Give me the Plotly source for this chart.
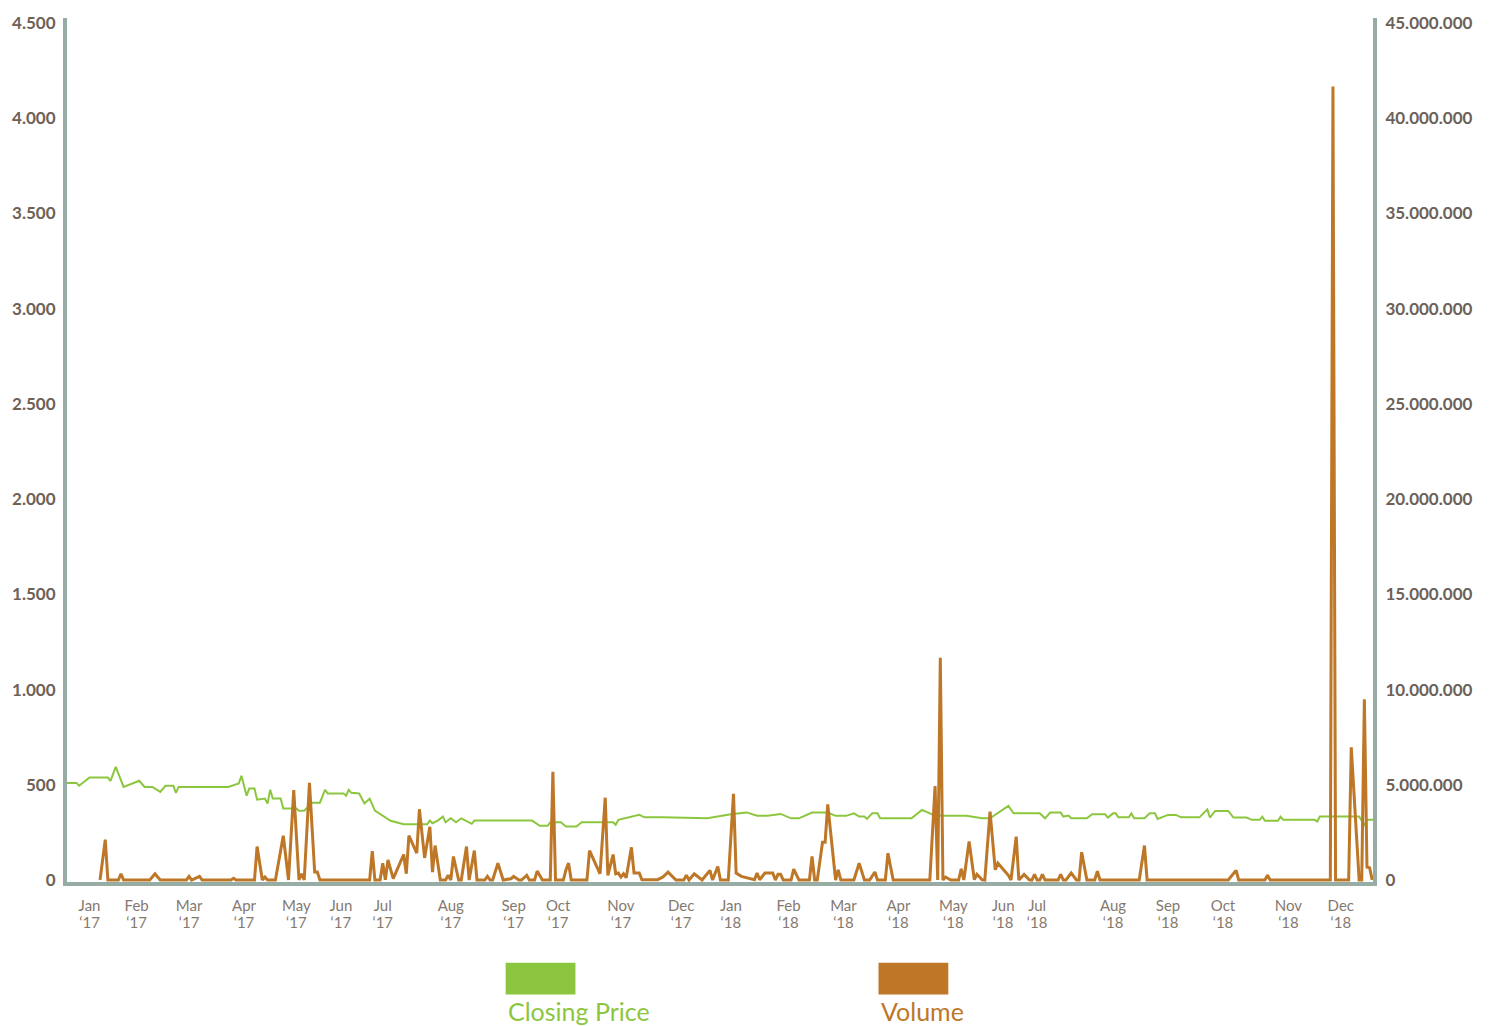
import plotly.graph_objects as go

# ---- data (trading-day index along a category-like axis) ----
price_day = [0, 4, 5, 9, 16, 17, 19, 22, 28, 30, 33, 36, 38, 41, 42, 43, 62, 66, 67, 69, 70, 72, 73,
             76, 77, 78, 79, 82, 83, 88, 89, 91, 94, 97, 99, 100, 106, 107, 108, 109, 112, 114, 116,
             118, 124, 129, 138, 139, 140, 142, 144, 145, 147, 149, 151, 155, 156, 178, 181, 184, 185,
             189, 191, 195, 197, 209, 210, 211, 219, 221, 228, 245, 254, 260, 264, 268, 273, 277, 280,
             285, 291, 294, 298, 301, 303, 305, 306, 308, 310, 311, 323, 327, 332, 344, 350, 353, 360,
             362, 372, 374, 376, 380, 381, 383, 384, 390, 392, 397, 398, 400, 401, 402, 406, 407, 408,
             412, 414, 416, 417, 421, 424, 426, 433, 436, 437, 439, 444, 446, 451, 453, 456, 457, 458,
             463, 464, 465, 477, 478, 479, 494, 496, 497, 500]
price_close = [510, 510, 495, 538, 538, 521, 594, 489, 521, 489, 489, 463, 495, 495, 458, 489, 489, 507,
               547, 443, 480, 480, 422, 428, 401, 474, 428, 428, 376, 376, 364, 364, 406, 406, 474, 454,
               454, 443, 474, 458, 454, 402, 427, 364, 311, 293, 293, 312, 298, 312, 333, 303, 324, 303,
               324, 295, 312, 312, 285, 285, 303, 303, 281, 281, 303, 303, 290, 316, 342, 329, 329, 324,
               345, 355, 338, 338, 347, 324, 324, 354, 354, 337, 337, 350, 333, 333, 321, 350, 350, 324,
               324, 368, 338, 338, 324, 324, 389, 350, 350, 324, 354, 354, 333, 338, 324, 324, 345, 345,
               328, 350, 350, 329, 329, 350, 324, 324, 350, 350, 321, 342, 342, 329, 329, 371, 328, 363,
               363, 328, 328, 316, 316, 333, 311, 311, 333, 316, 316, 307, 333, 333, 290, 316, 316]

volume_day = [13, 15, 16, 20, 21, 22, 32, 34, 36, 46, 47, 48, 51, 52, 63, 64, 65, 72, 73, 75, 76, 77, 80,
              83, 85, 87, 89, 90, 91, 93, 95, 96, 97, 116, 117, 118, 120, 121, 122, 123, 125, 129, 130,
              131, 134, 135, 137, 139, 140, 141, 143, 145, 146, 147, 148, 150, 151, 153, 154, 156, 157,
              160, 161, 162, 163, 165, 167, 170, 171, 173, 174, 176, 177, 179, 180, 182, 185, 186, 187,
              190, 191, 192, 193, 199, 200, 204, 206, 207, 209, 210, 211, 212, 213, 214, 216, 217, 219,
              220, 226, 228, 230, 233, 236, 237, 238, 240, 243, 246, 247, 249, 250, 253, 255, 256, 258,
              263, 264, 265, 267, 270, 271, 272, 273, 274, 277, 278, 280, 284, 285, 286, 287, 289, 290,
              291, 294, 295, 296, 301, 303, 305, 307, 309, 310, 313, 314, 316, 330, 332, 333, 334, 335,
              336, 338, 341, 342, 343, 345, 347, 348, 350, 351, 353, 355, 356, 360, 361, 363, 364, 366,
              368, 369, 370, 371, 372, 373, 374, 379, 380, 381, 382, 384, 386, 387, 388, 390, 393, 394,
              395, 410, 412, 413, 444, 447, 448, 458, 459, 460, 483, 484, 485, 490, 491, 494, 495, 496,
              497, 498, 499]
volume = [0, 2120000, 0, 0, 328000, 0, 0, 328000, 0, 0, 193000, 0, 193000, 0, 0, 89000, 0, 0, 1755000,
          0, 156000, 0, 0, 2328000, 0, 4724000, 0, 328000, 0, 5104000, 417000, 417000, 0, 0, 1510000, 0,
          0, 885000, 16000, 1057000, 68000, 1339000, 328000, 2328000, 1406000, 3714000, 1161000,
          2797000, 417000, 1807000, 0, 0, 245000, 0, 1234000, 0, 0, 1755000, 0, 1547000, 0, 0, 193000,
          0, 0, 885000, 0, 68000, 193000, 0, 0, 245000, 0, 0, 469000, 0, 0, 5677000, 0, 0, 536000,
          885000, 0, 0, 1547000, 328000, 4323000, 245000, 1339000, 328000, 365000, 156000, 328000,
          120000, 1718000, 365000, 365000, 16000, 16000, 156000, 417000, 0, 0, 245000, 0, 328000, 0,
          505000, 0, 714000, 0, 0, 4531000, 365000, 193000, 16000, 365000, 16000, 365000, 365000, 0,
          297000, 297000, 0, 0, 573000, 0, 0, 1234000, 0, 0, 1979000, 1979000, 3974000, 0, 536000, 0,
          0, 885000, 0, 0, 417000, 0, 0, 1406000, 0, 0, 4932000, 0, 11667000, 0, 156000, 0, 0, 589000,
          0, 2031000, 16000, 297000, 16000, 0, 3594000, 536000, 885000, 245000, 0, 2276000, 0, 297000,
          16000, 0, 297000, 0, 0, 297000, 0, 0, 297000, 0, 0, 365000, 0, 0, 1458000, 0, 0, 469000, 0,
          0, 1807000, 0, 0, 505000, 0, 0, 245000, 0, 0, 41667000, 0, 0, 6964000, 0, 0, 9495000, 677000,
          641000, 0]

month_tick_day = [9, 27, 47, 68, 88, 105, 121, 147, 171, 188, 212, 235,
                  254, 276, 297, 318, 339, 358, 371, 400, 421, 442, 467, 487]
month_names = ["Jan", "Feb", "Mar", "Apr", "May", "Jun", "Jul", "Aug", "Sep", "Oct", "Nov", "Dec"] * 2
month_years = ["\u201817"] * 12 + ["\u201818"] * 12

price_ticks = [0, 500, 1000, 1500, 2000, 2500, 3000, 3500, 4000, 4500]
volume_ticks = [0, 5000000, 10000000, 15000000, 20000000, 25000000, 30000000, 35000000, 40000000, 45000000]

GREEN = "#8cc63f"
BROWN = "#bd7727"
AXIS = "#97aca5"
LABEL = "#6d6158"
XLABEL = "#85796f"
FONT = "Source Sans Pro, Lato, sans-serif"

X_RANGE = [0.38, 499.3]

fig = go.Figure()
fig.add_trace(go.Scatter(x=price_day, y=price_close, mode="lines", name="Closing Price",
                         line=dict(color=GREEN, width=2), xaxis="x", yaxis="y", hoverinfo="skip"))
fig.add_trace(go.Scatter(x=volume_day, y=volume, mode="lines", name="Volume",
                         line=dict(color=BROWN, width=3), xaxis="x2", yaxis="y2", hoverinfo="skip"))

L, R, T, B = 63, 1373, 14, 882          # plot area in window pixels
W, H = 1490, 1026
pw, ph = R - L, B - T

def px(x):
    return (x - L) / pw

def py(y):
    return (B - y) / ph

tickfont_y = dict(family=FONT, size=17, color=LABEL, weight="bold")
tickfont_x = dict(family=FONT, size=15, color=XLABEL)

fig.update_layout(
    width=W, height=H,
    margin=dict(l=L, r=W - R, t=T, b=H - B),
    paper_bgcolor="white", plot_bgcolor="white",
    separators=",.",
    showlegend=False,
    hovermode=False,
    font=dict(family=FONT, color=LABEL),
    xaxis=dict(range=X_RANGE, showgrid=False, zeroline=False,
               showline=True, linecolor=AXIS, linewidth=4,
               tickmode="array", tickvals=month_tick_day, ticktext=month_names,
               ticks="", tickfont=tickfont_x, ticklabelstandoff=7),
    xaxis2=dict(range=X_RANGE, overlaying="x", side="bottom", anchor="y2",
                showgrid=False, zeroline=False, showline=False,
                tickmode="array", tickvals=month_tick_day, ticktext=month_years,
                ticks="", tickfont=tickfont_x, ticklabelstandoff=30),
    yaxis=dict(range=[-10.4, 4526], showgrid=False, zeroline=False,
               showline=True, linecolor=AXIS, linewidth=4,
               tickmode="array", tickvals=price_ticks, tickformat=",d",
               ticks="", tickfont=tickfont_y, ticklabelstandoff=4),
    yaxis2=dict(range=[-104000, 45260000], overlaying="y", side="right", anchor="x",
                showgrid=False, zeroline=False,
                showline=True, linecolor=AXIS, linewidth=4,
                tickmode="array", tickvals=volume_ticks, tickformat=",d",
                ticks="", tickfont=tickfont_y, ticklabelstandoff=5),
)

# legend swatches + labels (below the plot)
for x0, x1, col, txt in [(503, 573, GREEN, "Closing Price"), (877, 947, BROWN, "Volume")]:
    fig.add_shape(type="rect", xref="paper", yref="paper",
                  x0=px(x0), x1=px(x1), y0=py(995), y1=py(963),
                  fillcolor=col, line=dict(width=0))
    fig.add_annotation(xref="paper", yref="paper", x=px(x0), y=py(995),
                       xanchor="left", yanchor="top", showarrow=False,
                       text=txt, font=dict(family=FONT, size=25, color=col))

# the page is exactly the chart: no default body margin, no scrollbars
fig.write_html("out.html",
               config={"displayModeBar": False, "staticPlot": True},
               post_script="document.body.style.margin='0';"
                           "document.documentElement.style.overflow='hidden';")
